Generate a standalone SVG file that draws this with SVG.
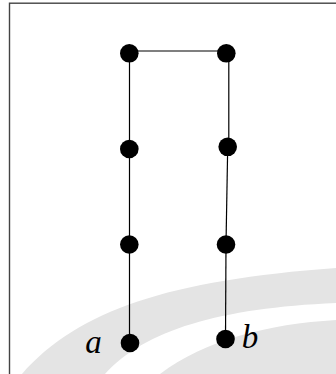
<svg xmlns="http://www.w3.org/2000/svg" width="336" height="374" viewBox="0 0 336 374">
  <style>
    .wm { fill: #e4e4e4; stroke: none; }
    .edge { stroke: #000; stroke-width: 1.2; fill: none; }
    .node { fill: #000; }
    .lbl { font-family: "Liberation Serif", "DejaVu Serif", serif; font-style: italic; font-size: 33px; fill: #000; text-anchor: middle; }
  </style>
  <rect x="0" y="0" width="336" height="374" fill="#fff"/>
  <g id="watermark">
    <path class="wm" d="M 22 374 C 78 310, 170 280, 336 268 L 336 303 C 220 308, 145 330, 105 374 Z"/>
    <path class="wm" d="M 160 374 C 205 340, 268 324, 336 320 L 336 374 Z"/>
  </g>
  <rect id="frame" x="9.5" y="3.2" width="400" height="400" fill="none" stroke="#444" stroke-width="1.4"/>
  <g id="connectors">
    <line class="edge" x1="129.5" y1="51" x2="226.5" y2="51"/>
    <line class="edge" x1="129.5" y1="53" x2="129.5" y2="343"/>
    <line class="edge" x1="228.8" y1="53" x2="228.8" y2="147"/>
    <line class="edge" x1="227.7" y1="147" x2="226" y2="244.5"/>
    <line class="edge" x1="226" y1="244.5" x2="225.5" y2="339"/>
  </g>
  <g id="n1"><circle class="node" cx="129.3" cy="53.3" r="9.3"/></g>
  <g id="n2"><circle class="node" cx="226.3" cy="53.3" r="9.3"/></g>
  <g id="n3"><circle class="node" cx="129.3" cy="149" r="9.3"/></g>
  <g id="n4"><circle class="node" cx="227.7" cy="146.8" r="9.3"/></g>
  <g id="n5"><circle class="node" cx="129.3" cy="244.5" r="9.3"/></g>
  <g id="n6"><circle class="node" cx="226" cy="244.5" r="9.3"/></g>
  <g id="a"><circle class="node" cx="130" cy="343" r="9.3"/><text class="lbl" x="93.5" y="352.5">a</text></g>
  <g id="b"><circle class="node" cx="225.5" cy="339" r="9.3"/><text class="lbl" x="250" y="348">b</text></g>
</svg>
